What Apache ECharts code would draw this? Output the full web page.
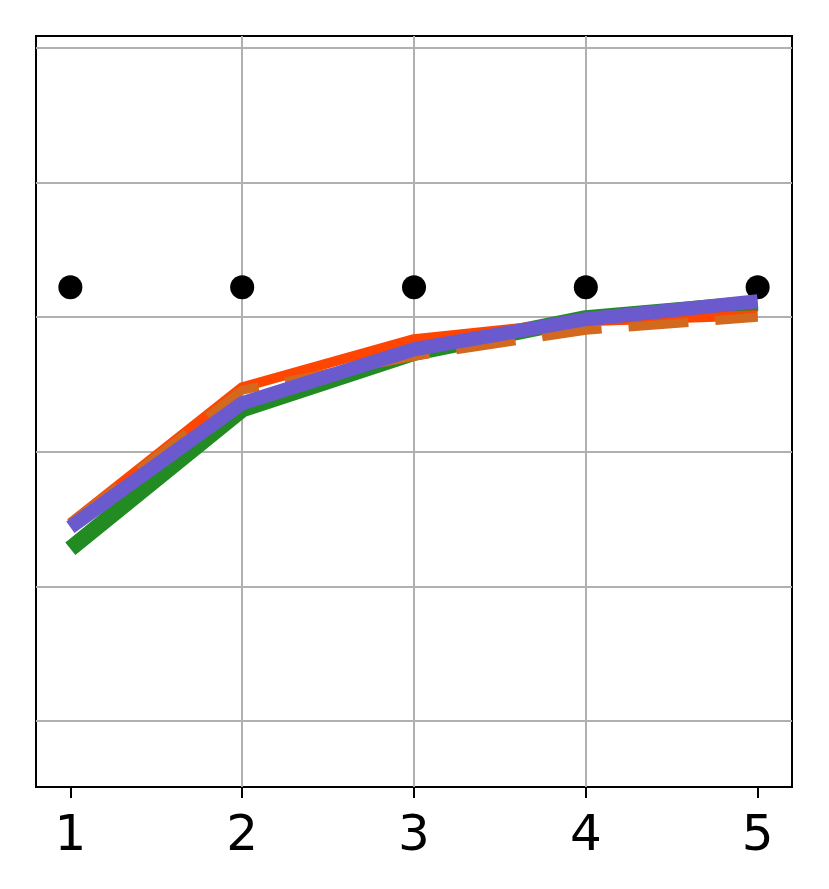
<!DOCTYPE html>
<html>
<head>
<meta charset="utf-8">
<script src="https://cdn.jsdelivr.net/npm/echarts@6/dist/echarts.min.js"></script>
<style>
	html, body { margin: 0; padding: 0; background: #fff; }
	#mainChart { width: 829px; height: 889px; }
</style>
</head>
<body>
<div id="mainChart"></div>
<script>
	// x positions and tick labels
	var xValues = [1, 2, 3, 4, 5];
	var xTickLabels = ['1', '2', '3', '4', '5'];

	// series values
	var greenValues  = [0.5280, 0.6315, 0.6735, 0.6993, 0.7104];
	var redValues    = [0.5470, 0.6480, 0.6837, 0.6970, 0.7015];
	var dashedValues = [0.5470, 0.6458, 0.6710, 0.6903, 0.7000];
	var purpleValues = [0.5440, 0.6361, 0.6762, 0.6985, 0.7119];
	var dotValues    = [0.7223, 0.7223, 0.7223, 0.7223, 0.7223];

	var pairUp = function(xs, ys){
		var out = [];
		for (var i = 0; i < xs.length; i++) {
			out.push([xs[i], ys[i]]);
		}
		return out;
	}

	var lineSeries = function(name, values, color, width, dash){
		return {
			name: name,
			type: 'line',
			data: pairUp(xValues, values),
			symbol: 'none',
			silent: true,
			lineStyle: {
				color: color,
				width: width,
				type: dash ? [60, 27] : 'solid',
				cap: 'butt',
				join: 'round'
			}
		}
	}

	var mainChart = echarts.init(document.getElementById('mainChart'));
	var mainOption = {
		animation: false,
		backgroundColor: '#ffffff',
		grid: {
			left: 36,
			right: 37,
			top: 36,
			bottom: 102,
			show: true,
			borderColor: '#000000',
			borderWidth: 2,
			backgroundColor: 'transparent'
		},
		xAxis: {
			type: 'value',
			min: 0.8,
			max: 5.2,
			minInterval: 1,
			maxInterval: 1,
			axisLine: { show: false },
			axisTick: {
				show: true,
				length: 11,
				customValues: xValues,
				lineStyle: { color: '#000000', width: 2 }
			},
			axisLabel: {
				customValues: xValues,
				formatter: function(v){
					var idx = xValues.indexOf(v);
					return idx > -1 ? xTickLabels[idx] : '';
				},
				color: '#000000',
				fontFamily: 'DejaVu Sans',
				fontSize: 50,
				margin: 25
			},
			splitLine: {
				show: true,
				showMinLine: false,
				showMaxLine: false,
				lineStyle: { color: '#b0b0b0', width: 2 }
			}
		},
		yAxis: {
			type: 'value',
			min: 0.351,
			max: 0.9089,
			minInterval: 0.1,
			maxInterval: 0.1,
			axisLine: { show: false },
			axisTick: { show: false },
			axisLabel: { show: false },
			splitLine: {
				show: true,
				showMinLine: false,
				showMaxLine: false,
				lineStyle: { color: '#b0b0b0', width: 2 }
			}
		},
		series: [
			lineSeries('green', greenValues, '#228b22', 16, false),
			lineSeries('red', redValues, '#ff4500', 10, false),
			lineSeries('dashed', dashedValues, '#d2691e', 9, true),
			lineSeries('purple', purpleValues, '#6a5acd', 14, false),
			{
				name: 'dots',
				type: 'scatter',
				data: pairUp(xValues, dotValues),
				symbol: 'circle',
				symbolSize: 24,
				silent: true,
				itemStyle: { color: '#000000', opacity: 1 }
			}
		]
	};
	mainChart.setOption(mainOption);
</script>
</body>
</html>
